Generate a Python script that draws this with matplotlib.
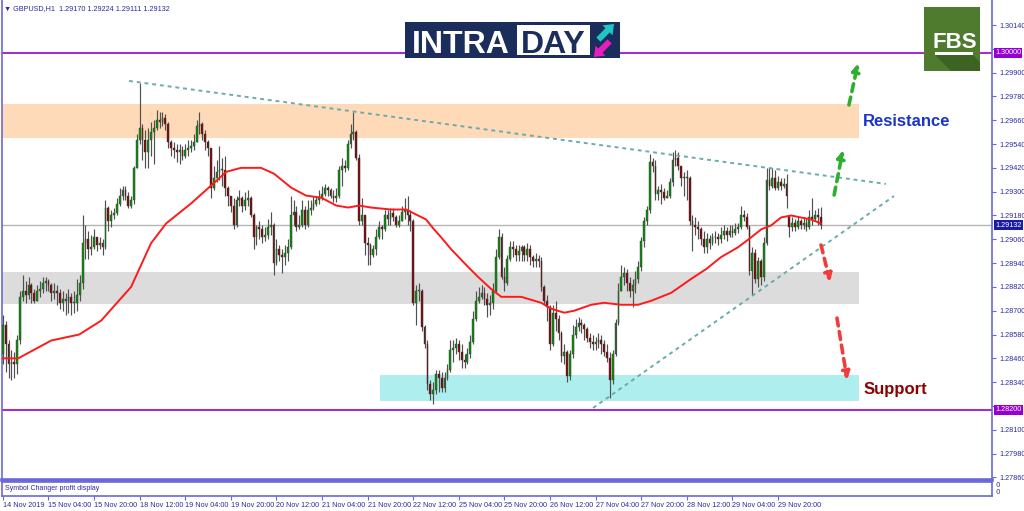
import numpy as np
import matplotlib
matplotlib.use('Agg')
import matplotlib.pyplot as plt
from matplotlib.patches import Rectangle, Polygon
from matplotlib.transforms import blended_transform_factory

# ---- data (GBPUSD H1) ----
closes = [
    1.2863, 1.2853, 1.2843, 1.2844, 1.2843, 1.2855, 1.2877, 1.2880, 1.2878, 1.2883, 1.2879, 1.2875,
    1.2880, 1.2881, 1.2884, 1.2885, 1.2883, 1.2879, 1.2880, 1.2879, 1.2874, 1.2876, 1.2875, 1.2877,
    1.2874, 1.2874, 1.2878, 1.2884, 1.2904, 1.2906, 1.2901, 1.2902, 1.2907, 1.2903, 1.2904, 1.2902,
    1.2922, 1.2915, 1.2918, 1.2919, 1.2924, 1.2928, 1.2931, 1.2928, 1.2923, 1.2926, 1.2942, 1.2956,
    1.2962, 1.2956, 1.2950, 1.2956, 1.2960, 1.2962, 1.2966, 1.2965, 1.2967, 1.2964, 1.2955, 1.2952,
    1.2951, 1.2950, 1.2951, 1.2948, 1.2951, 1.2952, 1.2953, 1.2955, 1.2963, 1.2964, 1.2959, 1.2955,
    1.2952, 1.2932, 1.2937, 1.2940, 1.2941, 1.2941, 1.2932, 1.2928, 1.2923, 1.2913, 1.2926, 1.2927,
    1.2923, 1.2926, 1.2927, 1.2918, 1.2907, 1.2912, 1.2911, 1.2907, 1.2908, 1.2912, 1.2913, 1.2894,
    1.2901, 1.2898, 1.2897, 1.2899, 1.2902, 1.2918, 1.2920, 1.2912, 1.2913, 1.2921, 1.2913, 1.2921,
    1.2922, 1.2924, 1.2926, 1.2927, 1.2929, 1.2932, 1.2931, 1.2928, 1.2927, 1.2928, 1.2941, 1.2943,
    1.2942, 1.2954, 1.2959, 1.2960, 1.2947, 1.2915, 1.2918, 1.2904, 1.2903, 1.2898, 1.2901, 1.2907,
    1.2912, 1.2911, 1.2918, 1.2916, 1.2919, 1.2917, 1.2913, 1.2915, 1.2920, 1.2921, 1.2918, 1.2915,
    1.2874, 1.2880, 1.2880, 1.2862, 1.2853, 1.2833, 1.2828, 1.2830, 1.2838, 1.2836, 1.2831, 1.2836,
    1.2840, 1.2850, 1.2851, 1.2853, 1.2849, 1.2845, 1.2844, 1.2848, 1.2854, 1.2866, 1.2875, 1.2877,
    1.2879, 1.2876, 1.2873, 1.2874, 1.2880, 1.2897, 1.2907, 1.2887, 1.2884, 1.2896, 1.2902, 1.2901,
    1.2898, 1.2900, 1.2902, 1.2898, 1.2901, 1.2897, 1.2895, 1.2896, 1.2895, 1.2882, 1.2875, 1.2872,
    1.2853, 1.2869, 1.2866, 1.2859, 1.2847, 1.2849, 1.2837, 1.2848, 1.2858, 1.2862, 1.2864, 1.2863,
    1.2861, 1.2856, 1.2854, 1.2853, 1.2854, 1.2855, 1.2853, 1.2849, 1.2846, 1.2835, 1.2848, 1.2864,
    1.2880, 1.2887, 1.2889, 1.2884, 1.2880, 1.2883, 1.2886, 1.2892, 1.2905, 1.2915, 1.2921, 1.2945,
    1.2943, 1.2929, 1.2931, 1.2930, 1.2927, 1.2928, 1.2935, 1.2946, 1.2947, 1.2943, 1.2937, 1.2937,
    1.2937, 1.2915, 1.2913, 1.2912, 1.2911, 1.2906, 1.2902, 1.2906, 1.2904, 1.2907, 1.2907, 1.2906,
    1.2908, 1.2910, 1.2908, 1.2910, 1.2909, 1.2911, 1.2912, 1.2918, 1.2917, 1.2912, 1.2890, 1.2899,
    1.2886, 1.2895, 1.2887, 1.2904, 1.2936, 1.2933, 1.2937, 1.2932, 1.2935, 1.2933, 1.2934, 1.2928,
    1.2912, 1.2914, 1.2912, 1.2915, 1.2913, 1.2914, 1.2912, 1.2917, 1.2916, 1.2918, 1.29170, 1.29132,
]
highs = [
    1.2868, 1.2865, 1.2855, 1.2850, 1.2849, 1.2858, 1.2880, 1.2888, 1.2885, 1.2887, 1.2884, 1.2881,
    1.2883, 1.2885, 1.2887, 1.2887, 1.2886, 1.2884, 1.2884, 1.2883, 1.2881, 1.2880, 1.2879, 1.2881,
    1.2879, 1.2880, 1.2886, 1.2888, 1.2918, 1.2913, 1.2910, 1.2908, 1.2911, 1.2907, 1.2907, 1.2906,
    1.2926, 1.2923, 1.2921, 1.2922, 1.2927, 1.2932, 1.2933, 1.2933, 1.2930, 1.2928, 1.2943, 1.2959,
    1.2985, 1.2964, 1.2961, 1.2962, 1.2965, 1.2966, 1.2971, 1.2970, 1.2970, 1.2969, 1.2965, 1.2956,
    1.2955, 1.2954, 1.2954, 1.2953, 1.2954, 1.2956, 1.2956, 1.2959, 1.2966, 1.2970, 1.2965, 1.2961,
    1.2956, 1.2952, 1.2943, 1.2946, 1.2953, 1.2947, 1.2948, 1.2933, 1.2928, 1.2927, 1.2928, 1.2931,
    1.2928, 1.2930, 1.2931, 1.2928, 1.2919, 1.2913, 1.2915, 1.2913, 1.2912, 1.2916, 1.2920, 1.2914,
    1.2906, 1.2903, 1.2901, 1.2903, 1.2906, 1.2928, 1.2926, 1.2923, 1.2918, 1.2926, 1.2923, 1.2926,
    1.2926, 1.2928, 1.2928, 1.2931, 1.2933, 1.2934, 1.2933, 1.2932, 1.2931, 1.2932, 1.2943, 1.2947,
    1.2946, 1.2956, 1.2964, 1.2970, 1.2961, 1.2949, 1.2927, 1.2918, 1.2907, 1.2904, 1.2903, 1.2911,
    1.2915, 1.2913, 1.2921, 1.2921, 1.2922, 1.2922, 1.2918, 1.2918, 1.2923, 1.2927, 1.2928, 1.2921,
    1.2916, 1.2883, 1.2884, 1.2881, 1.2863, 1.2855, 1.2835, 1.2834, 1.2840, 1.2840, 1.2839, 1.2839,
    1.2843, 1.2855, 1.2855, 1.2856, 1.2855, 1.2853, 1.2848, 1.2851, 1.2858, 1.2870, 1.2880, 1.2882,
    1.2883, 1.2882, 1.2879, 1.2878, 1.2884, 1.2901, 1.2911, 1.2909, 1.2892, 1.2898, 1.2905, 1.2905,
    1.2903, 1.2903, 1.2903, 1.2903, 1.2904, 1.2903, 1.2898, 1.2899, 1.2898, 1.2897, 1.2883, 1.2878,
    1.2873, 1.2873, 1.2875, 1.2868, 1.2860, 1.2853, 1.2850, 1.2850, 1.2863, 1.2866, 1.2867, 1.2866,
    1.2864, 1.2862, 1.2859, 1.2858, 1.2857, 1.2859, 1.2858, 1.2855, 1.2853, 1.2849, 1.2850, 1.2866,
    1.2884, 1.2893, 1.2892, 1.2891, 1.2887, 1.2886, 1.2890, 1.2895, 1.2907, 1.2917, 1.2923, 1.2949,
    1.2947, 1.2946, 1.2933, 1.2934, 1.2932, 1.2931, 1.2937, 1.2950, 1.2951, 1.2950, 1.2943, 1.2940,
    1.2941, 1.2938, 1.2918, 1.2917, 1.2915, 1.2912, 1.2910, 1.2909, 1.2908, 1.2909, 1.2910, 1.2909,
    1.2912, 1.2913, 1.2912, 1.2913, 1.2913, 1.2914, 1.2914, 1.2923, 1.2921, 1.2919, 1.2913, 1.2902,
    1.2901, 1.2897, 1.2896, 1.2907, 1.2942, 1.2942, 1.2942, 1.2941, 1.2938, 1.2937, 1.2937, 1.2939,
    1.2918, 1.2917, 1.2916, 1.2917, 1.2916, 1.2917, 1.2916, 1.2921, 1.2927, 1.2921, 1.2922, 1.29224,
]
lows = [
    1.2843, 1.2839, 1.2836, 1.2835, 1.2836, 1.2838, 1.2853, 1.2875, 1.2874, 1.2876, 1.2874, 1.2874,
    1.2875, 1.2877, 1.2879, 1.2880, 1.2880, 1.2875, 1.2876, 1.2873, 1.2871, 1.2870, 1.2868, 1.2869,
    1.2868, 1.2869, 1.2870, 1.2875, 1.2881, 1.2896, 1.2896, 1.2898, 1.2901, 1.2900, 1.2901, 1.2898,
    1.2901, 1.2910, 1.2912, 1.2916, 1.2918, 1.2923, 1.2926, 1.2926, 1.2922, 1.2922, 1.2924, 1.2942,
    1.2954, 1.2946, 1.2942, 1.2942, 1.2948, 1.2944, 1.2961, 1.2962, 1.2963, 1.2961, 1.2952, 1.2948,
    1.2947, 1.2945, 1.2944, 1.2946, 1.2947, 1.2948, 1.2950, 1.2951, 1.2955, 1.2959, 1.2956, 1.2951,
    1.2948, 1.2927, 1.2931, 1.2935, 1.2936, 1.2933, 1.2928, 1.2923, 1.2920, 1.2911, 1.2912, 1.2923,
    1.2920, 1.2921, 1.2923, 1.2917, 1.2901, 1.2903, 1.2906, 1.2904, 1.2905, 1.2906, 1.2908, 1.2888,
    1.2893, 1.2895, 1.2889, 1.2893, 1.2895, 1.2901, 1.2913, 1.2910, 1.2911, 1.2912, 1.2911, 1.2912,
    1.2918, 1.2921, 1.2923, 1.2924, 1.2926, 1.2928, 1.2928, 1.2927, 1.2925, 1.2925, 1.2927, 1.2933,
    1.2940, 1.2941, 1.2952, 1.2956, 1.2946, 1.2913, 1.2913, 1.2898, 1.2893, 1.2893, 1.2897, 1.2898,
    1.2906, 1.2906, 1.2910, 1.2913, 1.2913, 1.2915, 1.2912, 1.2912, 1.2915, 1.2916, 1.2913, 1.2910,
    1.2873, 1.2863, 1.2875, 1.2860, 1.2851, 1.2830, 1.2825, 1.2823, 1.2828, 1.2829, 1.2829, 1.2829,
    1.2835, 1.2839, 1.2844, 1.2848, 1.2845, 1.2841, 1.2841, 1.2843, 1.2846, 1.2853, 1.2865, 1.2874,
    1.2876, 1.2873, 1.2867, 1.2868, 1.2871, 1.2879, 1.2896, 1.2886, 1.2880, 1.2883, 1.2895, 1.2897,
    1.2895, 1.2895, 1.2895, 1.2895, 1.2895, 1.2893, 1.2892, 1.2892, 1.2892, 1.2880, 1.2873, 1.2865,
    1.2850, 1.2852, 1.2860, 1.2855, 1.2844, 1.2843, 1.2834, 1.2835, 1.2846, 1.2856, 1.2860, 1.2859,
    1.2855, 1.2854, 1.2851, 1.2850, 1.2850, 1.2851, 1.2848, 1.2847, 1.2844, 1.2826, 1.2833, 1.2847,
    1.2863, 1.2880, 1.2883, 1.2880, 1.2877, 1.2872, 1.2879, 1.2884, 1.2890, 1.2902, 1.2913, 1.2919,
    1.2940, 1.2926, 1.2926, 1.2924, 1.2926, 1.2927, 1.2927, 1.2933, 1.2943, 1.2941, 1.2933, 1.2928,
    1.2926, 1.2913, 1.2900, 1.2908, 1.2906, 1.2903, 1.2899, 1.2899, 1.2901, 1.2903, 1.2904, 1.2903,
    1.2904, 1.2906, 1.2905, 1.2907, 1.2907, 1.2908, 1.2909, 1.2911, 1.2915, 1.2911, 1.2888, 1.2878,
    1.2884, 1.2882, 1.2883, 1.2885, 1.2903, 1.2931, 1.2932, 1.2931, 1.2931, 1.2931, 1.2932, 1.2922,
    1.2907, 1.2910, 1.2910, 1.2911, 1.2911, 1.2911, 1.2910, 1.2911, 1.2913, 1.2915, 1.2913, 1.29111,
]
first_open = 1.2848
gap_bar, gap_open = 276, 1.2917   # Monday open gap

# red moving average, read at sample bars
ma_bars = [0, 5.4, 17, 26.8, 34.5, 45, 52, 57.3, 66, 73, 78.4, 83.6, 90.6, 95.2, 101.2,
           106.4, 111.7, 117, 121.2, 125, 129.2, 136.2, 141.5, 144.3, 148.5, 151.3, 153.8,
           157.3, 163.3, 166.8, 171.3, 174.9, 181.9, 188.9, 192.4, 197, 200.5, 206.4, 211,
           216.9, 222.9, 227.5, 234.5, 241.5, 246.8, 252, 258, 262.6, 266.1, 269.6, 273.1,
           276.6, 280, 283.6, 287]
ma_vals = [1.2846, 1.2846, 1.2855, 1.2858, 1.2865, 1.2882, 1.2904, 1.2914, 1.2924, 1.2933,
           1.2940, 1.2942, 1.2942, 1.2939, 1.2932, 1.2928, 1.2927, 1.2923, 1.2922, 1.2923,
           1.2922, 1.2921, 1.2921, 1.2919, 1.2916, 1.2911, 1.2907, 1.2901, 1.2892, 1.2887,
           1.2881, 1.2877, 1.2877, 1.2874, 1.2871, 1.2869, 1.2870, 1.2873, 1.2874, 1.2873,
           1.2873, 1.2875, 1.2879, 1.2886, 1.2891, 1.2897, 1.2902, 1.2907, 1.2911, 1.2913,
           1.2917, 1.2918, 1.2917, 1.2916, 1.2914]

date_labels = ['14 Nov 2019', '15 Nov 04:00', '15 Nov 20:00', '18 Nov 12:00', '19 Nov 04:00',
               '19 Nov 20:00', '20 Nov 12:00', '21 Nov 04:00', '21 Nov 20:00', '22 Nov 12:00',
               '25 Nov 04:00', '25 Nov 20:00', '26 Nov 12:00', '27 Nov 04:00', '27 Nov 20:00',
               '28 Nov 12:00', '29 Nov 04:00', '29 Nov 20:00']
price_ticks = [1.30140, 1.30020, 1.29900, 1.29780, 1.29660, 1.29540, 1.29420, 1.29300,
               1.29180, 1.29060, 1.28940, 1.28820, 1.28700, 1.28580, 1.28460, 1.28340,
               1.28220, 1.28100, 1.27980, 1.27860]
hidden_ticks = [1.30020, 1.28220]   # covered by the level boxes

resistance_zone = (1.29570, 1.29742)
middle_zone = (1.28734, 1.28895)
support_zone = (1.28245, 1.28376)
round_levels = [1.30000, 1.28200]
last_price = 1.29132
upper_trend = ([44.3, 309.9], [1.29858, 1.29339])
lower_trend = ([207.1, 312.7], [1.28210, 1.29278])
header = '\u25bc GBPUSD,H1  1.29170 1.29224 1.29111 1.29132'

W, H = 1024, 511
frame = '#6868d8'
navy = '#2a2a9a'

fig = plt.figure(figsize=(W / 100, H / 100), dpi=100)
ax = fig.add_axes([2 / W, 1 - 480 / H, 990 / W, 480 / H])
ax_sub = fig.add_axes([2 / W, 1 - 496 / H, 990 / W, 14 / H], sharex=ax)

n = len(closes)
x = np.arange(n)
c = np.array(closes)
h = np.array(highs)
l = np.array(lows)
o = np.array([first_open] + closes[:-1])
o[gap_bar] = gap_open
up = c >= o

# zones
ax.fill_between([-1, 300.5], *resistance_zone, color='#ffdab9', lw=0, zorder=0.5)
ax.fill_between([-1, 300.5], *middle_zone, color='#dcdcdc', lw=0, zorder=0.5)
ax.fill_between([132.2, 300.5], *support_zone, color='#afeeee', lw=0, zorder=0.5)

# horizontal levels
for lvl in round_levels:
    ax.axhline(lvl, color='#9400d3', lw=1.2, zorder=1)
ax.axhline(last_price, color='#b4b4b4', lw=1.0, zorder=1)

# candles
ax.vlines(x, l, h, color='#505050', lw=0.85, zorder=3)
body = np.where(np.abs(c - o) < 1e-6, 0.00002, c - o)
ax.bar(x, body, bottom=o, width=0.62, color=np.where(up, '#0c8c0c', '#7c0a0a'),
       edgecolor='#3c3c3c', linewidth=0.3, zorder=4)

# moving average and trend lines
ax.plot(ma_bars, ma_vals, color='#ff1a1a', lw=1.4, zorder=5)
for xs, ys in (upper_trend, lower_trend):
    ax.plot(xs, ys, color='#6aacac', lw=1.4, ls=(0, (2, 2)), zorder=5)

# projection arrows
arrows = [((296.9, 1.29737), (300.1, 1.29948), '#2fae2f'),
          ((291.7, 1.29283), (294.8, 1.29510), '#2fae2f'),
          ((287.1, 1.29031), (290.3, 1.28845), '#f03c3c'),
          ((292.7, 1.28663), (296.3, 1.28351), '#f03c3c')]
for tail, head, col in arrows:
    ax.annotate('', xy=head, xytext=tail,
                arrowprops=dict(arrowstyle='-|>', color=col, lw=2.6, ls=(0, (2.2, 1.6)),
                                mutation_scale=11, shrinkA=0, shrinkB=0), zorder=6)

ax.text(301.9, 1.29656, 'Resistance', color='#1a35c8', fontsize=12, fontweight='bold',
        family='Liberation Sans', va='center', ha='left', zorder=7)
ax.text(301.9, 1.28305, 'Support', color='#8b0000', fontsize=12, fontweight='bold',
        family='Liberation Sans', va='center', ha='left', zorder=7)

# axes styling
ax.set_xlim(-0.3, 347.1)
ax.set_ylim(1.278468, 1.30266)
ax.yaxis.tick_right()
ax.set_yticks(price_ticks)
ax.set_yticklabels(['' if v in hidden_ticks else f'{v:.5f}' for v in price_ticks],
                   family='Liberation Sans')
ax.tick_params(axis='y', direction='out', length=3, width=0.8, color=frame,
               labelsize=5.2, labelcolor=navy, pad=2)
ax.tick_params(axis='x', bottom=False, labelbottom=False)
ax.spines['top'].set_visible(False)
for s in ('left', 'right'):
    ax.spines[s].set_color(frame)
    ax.spines[s].set_linewidth(1.2)
ax.spines['bottom'].set_color(frame)
ax.spines['bottom'].set_linewidth(2.6)

trans = blended_transform_factory(ax.transAxes, ax.transData)
for lvl, col in ((1.30000, '#9400d3'), (1.28200, '#9400d3'), (last_price, '#1a1aa8')):
    ax.text(1.003, lvl, f'{lvl:.5f}', transform=trans, ha='left', va='center',
            fontsize=5.2, family='Liberation Sans', color='white', clip_on=False, zorder=10,
            bbox=dict(boxstyle='square,pad=0.18', fc=col, ec='none'))

# sub window with date axis
ax_sub.set_yticks([])
ax_sub.set_xticks(np.arange(0, 16 * len(date_labels), 16))
ax_sub.set_xticklabels(date_labels, ha='left', family='Liberation Sans')
ax_sub.tick_params(axis='x', direction='out', length=3, width=0.8, color=frame,
                   labelsize=5.2, labelcolor=navy, pad=1.5)
for s in ax_sub.spines.values():
    s.set_color(frame)
    s.set_linewidth(1.2)
ax_sub.text(0.003, 0.55, 'Symbol Changer profit display', transform=ax_sub.transAxes,
            fontsize=5, color=navy, family='Liberation Sans', va='center')
ax_sub.text(1.004, 0.78, '0', transform=ax_sub.transAxes, fontsize=5, color=navy, va='center')
ax_sub.text(1.004, 0.25, '0', transform=ax_sub.transAxes, fontsize=5, color=navy, va='center')

fig.text(4 / W, 1 - 10 / H, header, fontsize=5.2, color=navy,
         family=['Liberation Sans', 'DejaVu Sans'], va='baseline')


# ---- logos (pixel coordinates of the picture) ----
def box(x0, y0, x1, y1, color, z=5):
    fig.patches.append(Rectangle((x0 / W, 1 - y1 / H), (x1 - x0) / W, (y1 - y0) / H,
                                 transform=fig.transFigure, fc=color, ec='none', zorder=z))


def poly(pts, color, z=6):
    fig.patches.append(Polygon([(px / W, 1 - py / H) for px, py in pts], closed=True,
                               transform=fig.transFigure, fc=color, ec='none', zorder=z))


box(405, 22, 620, 58, '#1b2d5b')
box(517, 25, 590, 55, 'white', z=6)
fig.text(412 / W, 1 - 53 / H, 'INTRA', fontsize=23, fontweight='bold', color='white',
         family='Liberation Sans', va='baseline', zorder=7)
fig.text(521 / W, 1 - 53 / H, 'DAY', fontsize=23, fontweight='bold', color='#1b2d5b',
         family='Liberation Sans', va='baseline', zorder=7)
poly([(614, 24), (612.5, 35.3), (609.7, 32.5), (600.5, 41.7), (596.3, 37.5),
      (605.5, 28.3), (602.6, 25.4)], '#1ec8c8')
poly([(594, 57), (605.4, 55.6), (602.5, 52.7), (611.7, 43.5), (607.5, 39.3),
      (598.3, 48.5), (595.5, 45.7)], '#e61ebe')

box(924, 7, 980, 71, '#4e7b2d')
poly([(935, 55), (973, 55), (980, 62), (980, 71), (951, 71)], '#3d6322')
fig.text(933 / W, 1 - 48 / H, 'FBS', fontsize=16, fontweight='bold', color='white',
         family='Liberation Sans', va='baseline', zorder=7)
box(935, 52, 973, 55, 'white', z=7)

fig.savefig('out.png', dpi=100)
